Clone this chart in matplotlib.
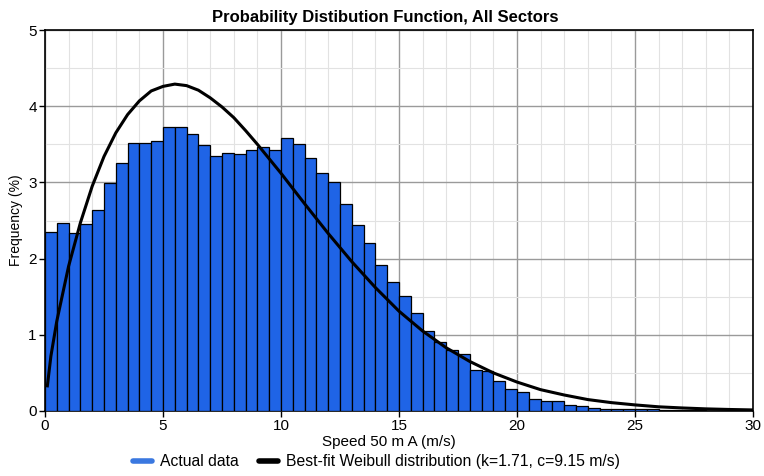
import matplotlib
matplotlib.use("Agg")
import matplotlib.pyplot as plt
from matplotlib.ticker import MultipleLocator
from matplotlib.lines import Line2D

plt.rcParams['font.family'] = ['Liberation Sans', 'DejaVu Sans']

# Histogram bins (0.5 m/s wide), left edges
bin_width = 0.5
bin_left = [i * 0.5 for i in range(60)]
freq = [2.35, 2.47, 2.34, 2.45, 2.64, 2.99, 3.25, 3.52, 3.52, 3.54,
        3.73, 3.73, 3.64, 3.49, 3.34, 3.39, 3.37, 3.43, 3.46, 3.42,
        3.58, 3.51, 3.32, 3.12, 3.01, 2.72, 2.44, 2.21, 1.92, 1.69,
        1.51, 1.29, 1.05, 0.90, 0.80, 0.75, 0.54, 0.52, 0.40, 0.29,
        0.25, 0.16, 0.13, 0.13, 0.08, 0.06, 0.04, 0.03, 0.03, 0.02,
        0.02, 0.02, 0.01, 0.01, 0.01, 0.01, 0.005, 0.005, 0.005, 0.005]

# Best-fit Weibull curve
curve_x = [0.1, 0.25, 0.5, 1, 1.5, 2, 2.5, 3, 3.5, 4, 4.5, 5, 5.5, 6, 6.5, 7,
           7.5, 8, 8.5, 9, 9.5, 10, 11, 12, 13, 14, 15, 16, 17, 18, 19, 20,
           21, 22, 23, 24, 25, 26, 27, 28, 29, 30]
curve_y = [0.33, 0.72, 1.18, 1.90, 2.47, 2.95, 3.34, 3.65, 3.89, 4.07, 4.20,
           4.26, 4.29, 4.27, 4.21, 4.11, 3.99, 3.85, 3.68, 3.50, 3.31, 3.12,
           2.72, 2.33, 1.96, 1.62, 1.31, 1.05, 0.83, 0.65, 0.50, 0.38, 0.28,
           0.21, 0.15, 0.11, 0.08, 0.055, 0.04, 0.028, 0.02, 0.014]

title = "Probability Distibution Function, All Sectors"
xlabel = "Speed 50 m A (m/s)"
ylabel = "Frequency (%)"
legend_labels = ["Actual data", "Best-fit Weibull distribution (k=1.71, c=9.15 m/s)"]

bar_color = "#1f64e6"

fig = plt.figure(figsize=(7.64, 4.76), dpi=100)
ax = fig.add_axes([45/764, 1-411/476, (753-45)/764, (411-30)/476])

ax.bar(bin_left, freq, width=bin_width, align='edge', color=bar_color,
       edgecolor='black', linewidth=0.9, zorder=3)
ax.plot(curve_x, curve_y, color='black', linewidth=2.2, zorder=4)

ax.set_xlim(0, 30)
ax.set_ylim(0, 5)
ax.xaxis.set_major_locator(MultipleLocator(5))
ax.xaxis.set_minor_locator(MultipleLocator(1))
ax.yaxis.set_major_locator(MultipleLocator(1))
ax.yaxis.set_minor_locator(MultipleLocator(0.5))
ax.grid(which='major', color='#9a9a9a', linewidth=1.0, zorder=0)
ax.grid(which='minor', color='#e2e2e2', linewidth=0.8, zorder=0)
ax.set_axisbelow(True)
ax.tick_params(which='major', direction='out', length=4, width=1,
               labelsize=11, colors='black', pad=2)
ax.tick_params(which='minor', length=0)
for s in ax.spines.values():
    s.set_color('black')
    s.set_linewidth(1.2)

fig.text(0.504, 1-22/476, title, fontsize=12, fontweight='bold',
         ha='center', va='baseline')
ax.set_xlabel(xlabel, fontsize=11, labelpad=1)
ax.xaxis.set_label_coords(0.485, -0.062)
ax.set_ylabel(ylabel, fontsize=10, labelpad=4)

handles = [Line2D([0], [0], color='#3a78e0', linewidth=4, solid_capstyle='round'),
           Line2D([0], [0], color='black', linewidth=4, solid_capstyle='round')]
fig.legend(handles, legend_labels, loc='lower center', ncol=2, frameon=False,
           fontsize=11.3, bbox_to_anchor=(0.493, -0.015), handlelength=1.2,
           handletextpad=0.5, columnspacing=1.3)

fig.savefig("out.png", dpi=100)
